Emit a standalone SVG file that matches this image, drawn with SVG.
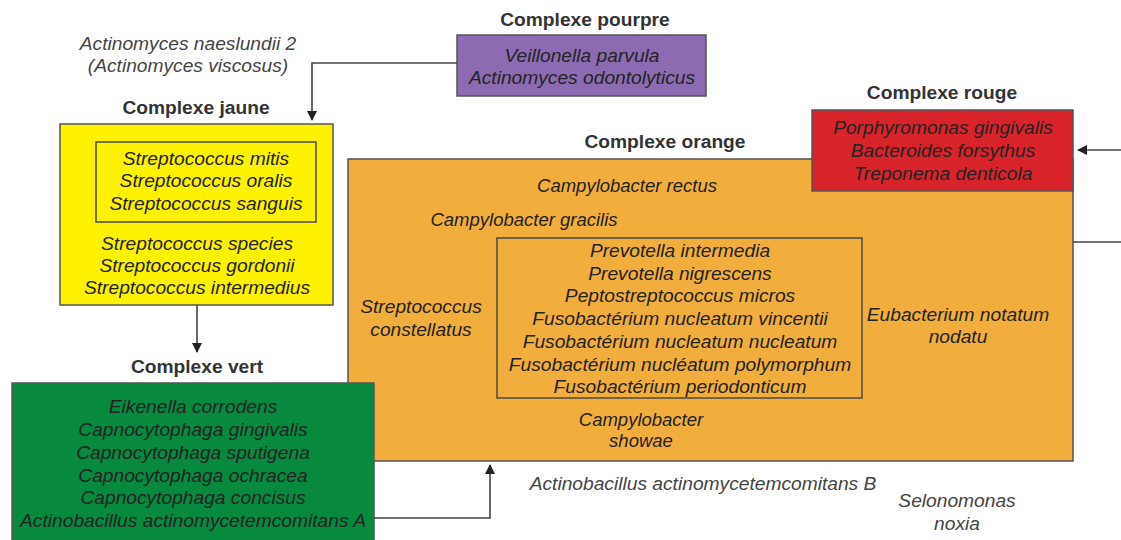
<svg xmlns="http://www.w3.org/2000/svg" width="1121" height="540" viewBox="0 0 1121 540">
<defs>
<style>
text{font-family:"Liberation Sans",Arial,sans-serif;text-anchor:middle}
.t{font-size:19.2px;font-weight:bold;fill:#333}
.i{font-size:19.2px;font-style:italic;fill:#232323}
.c{font-size:18.5px}
.g{font-size:19.2px;font-style:italic;fill:#444}
.box{stroke:#555;stroke-width:1.5}
.inner{fill:none;stroke:#4a4a4a;stroke-width:1.5}
.conn{fill:none;stroke:#444;stroke-width:1.6}
</style>
<marker id="ah" viewBox="0 0 10 10" refX="9" refY="5" markerWidth="10" markerHeight="10" markerUnits="userSpaceOnUse" orient="auto">
<path d="M0,0 L10,5 L0,10 z" fill="#222"/>
</marker>
</defs>
<rect width="1121" height="540" fill="#fff"/>

<g id="orange">
<rect class="box" x="348" y="159" width="725" height="302" fill="#f2ae3c"/>
<text class="t" x="665" y="148">Complexe orange</text>
<text class="i c" x="627" y="192">Campylobacter rectus</text>
<text class="i c" x="524" y="226">Campylobacter gracilis</text>
<rect class="inner" x="497" y="238" width="365" height="160"/>
<text class="i" x="680" y="257">Prevotella intermedia</text>
<text class="i" x="680" y="280">Prevotella nigrescens</text>
<text class="i" x="680" y="302">Peptostreptococcus micros</text>
<text class="i" x="680" y="325">Fusobactérium nucleatum vincentii</text>
<text class="i" x="680" y="348">Fusobactérium nucleatum nucleatum</text>
<text class="i" x="680" y="371">Fusobactérium nucléatum polymorphum</text>
<text class="i" x="680" y="393">Fusobactérium periodonticum</text>
<text class="i" x="421" y="313">Streptococcus</text>
<text class="i" x="421" y="336">constellatus</text>
<text class="i" x="958" y="321">Eubacterium notatum</text>
<text class="i" x="958" y="343">nodatu</text>
<text class="i c" x="641" y="426">Campylobacter</text>
<text class="i c" x="641" y="447">showae</text>
</g>

<g id="rouge">
<rect class="box" x="812" y="110" width="261" height="81" fill="#d9232b"/>
<text class="t" x="942" y="99">Complexe rouge</text>
<text class="i" x="943" y="134">Porphyromonas gingivalis</text>
<text class="i" x="943" y="157">Bacteroides forsythus</text>
<text class="i" x="943" y="180">Treponema denticola</text>
</g>

<g id="pourpre">
<rect class="box" x="457" y="35" width="249" height="61" fill="#8c6bb2"/>
<text class="t" x="585" y="26">Complexe pourpre</text>
<text class="i" x="582" y="62">Veillonella parvula</text>
<text class="i" x="582" y="84">Actinomyces odontolyticus</text>
</g>

<g id="naeslundii">
<text class="g" x="188" y="50">Actinomyces naeslundii 2</text>
<text class="g" x="188" y="72">(Actinomyces viscosus)</text>
</g>

<g id="jaune">
<rect class="box" x="60" y="124" width="273" height="181" fill="#fff200"/>
<text class="t" x="196" y="114">Complexe jaune</text>
<rect class="inner" x="96" y="142" width="220" height="80"/>
<text class="i" x="206" y="165">Streptococcus mitis</text>
<text class="i" x="206" y="187">Streptococcus oralis</text>
<text class="i" x="206" y="210">Streptococcus sanguis</text>
<text class="i" x="197" y="250">Streptococcus species</text>
<text class="i" x="197" y="272">Streptococcus gordonii</text>
<text class="i" x="197" y="294">Streptococcus intermedius</text>
</g>

<g id="vert">
<rect class="box" x="12" y="383" width="362" height="160" fill="#078a3e"/>
<text class="t" x="197" y="373">Complexe vert</text>
<text class="i" x="193" y="413">Eikenella corrodens</text>
<text class="i" x="193" y="436">Capnocytophaga gingivalis</text>
<text class="i" x="193" y="459">Capnocytophaga sputigena</text>
<text class="i" x="193" y="482">Capnocytophaga ochracea</text>
<text class="i" x="193" y="504">Capnocytophaga concisus</text>
<text class="i" x="193" y="527">Actinobacillus actinomycetemcomitans A</text>
</g>

<g id="isoles">
<text class="g" x="703" y="490">Actinobacillus actinomycetemcomitans B</text>
<text class="g" x="957" y="507">Selonomonas</text>
<text class="g" x="957" y="530">noxia</text>
</g>

<g id="connectors">
<path class="conn" d="M457,63 H312 V120" marker-end="url(#ah)"/>
<path class="conn" d="M197,305 V352" marker-end="url(#ah)"/>
<path class="conn" d="M374,518 H490 V465" marker-end="url(#ah)"/>
<path class="conn" d="M1121,150 H1078" marker-end="url(#ah)"/>
<path class="conn" d="M1073,242 H1121"/>
</g>
</svg>
